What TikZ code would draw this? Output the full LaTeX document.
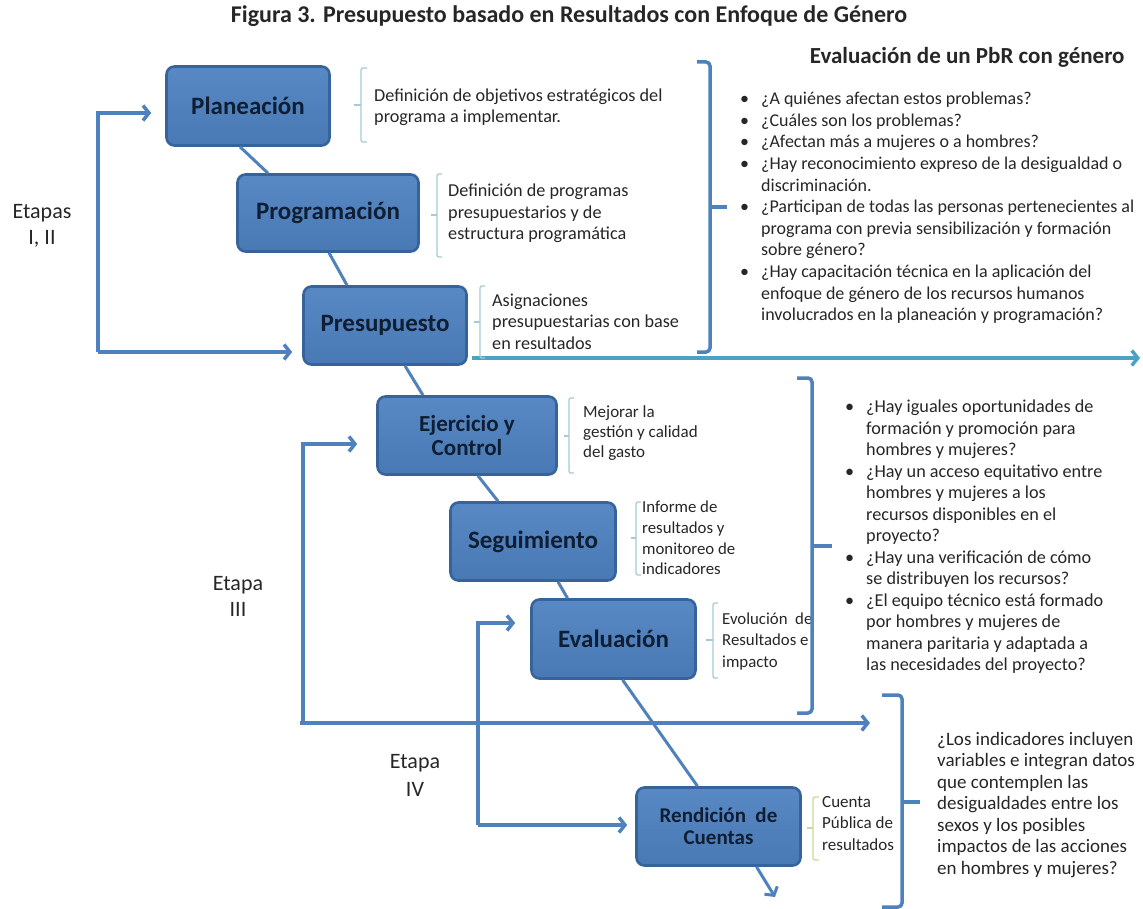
\documentclass[tikz,border=0pt]{standalone}
\usepackage{fontspec}
\setmainfont{Carlito}
\usetikzlibrary{arrows.meta,calc}

\definecolor{boxfill}{HTML}{4F81BD}
\definecolor{boxtop}{HTML}{5889C4}
\definecolor{boxbot}{HTML}{4879B5}
\definecolor{boxedge}{HTML}{36639A}
\definecolor{boxtext}{HTML}{0F1E33}
\definecolor{flowblue}{HTML}{4F81BD}
\definecolor{tealflow}{HTML}{4AA3C4}
\definecolor{notebrace}{HTML}{A8CAD4}
\definecolor{greenbrace}{HTML}{C9D89C}
\definecolor{bodytext}{HTML}{262626}

\newcommand{\bulmark}{\makebox[21pt][l]{•}}
\newcommand{\bulindent}{\hspace*{21pt}}

\begin{document}
\begin{tikzpicture}[x=1pt,y=-1pt,
  stage/.style={draw=boxedge, line width=2.6pt, top color=boxtop, bottom color=boxbot,
    rounded corners=8pt, text=boxtext, align=center, inner sep=0pt,
    font=\bfseries\fontsize{25}{28}\selectfont},
  flow/.style={draw=flowblue, line width=3pt},
  loop/.style={draw=flowblue, line width=3.5pt, -{Straight Barb[length=6pt,width=15pt]}},
  note/.style={anchor=west, align=left, inner sep=0pt, text=bodytext,
    font=\fontsize{18.2}{21.5}\selectfont},
  lownote/.style={note, font=\fontsize{17}{21}\selectfont},
  qlist/.style={anchor=west, align=left, inner sep=0pt, text=bodytext,
    font=\fontsize{18}{21.6}\selectfont},
  stagelabel/.style={align=center, inner sep=0pt, text=bodytext},
  smallbrace/.style={draw=notebrace, line width=1.3pt, rounded corners=2pt},
  bigbrace/.style={draw=flowblue, line width=3.5pt, rounded corners=4pt}]

\useasboundingbox (0,0) rectangle (1143,909);

% headings
\node[font=\bfseries\fontsize{24}{28}\selectfont, text=bodytext] (title) at (569,16)
  {Figura 3. Presupuesto basado en Resultados con Enfoque de Género};
\node[font=\bfseries\fontsize{23}{26}\selectfont, text=bodytext, anchor=east] (evalhead) at (1128,57)
  {Evaluación de un PbR con género};

% stage boxes
\node[stage, minimum width=163pt, minimum height=79pt] (plan) at (248,106) {Planeación};
\node[stage, minimum width=181pt, minimum height=77pt] (prog) at (328,213) {Programación};
\node[stage, minimum width=163pt, minimum height=78pt] (pres) at (385,325.5) {Presupuesto};
\node[stage, minimum width=179pt, minimum height=78pt,
      font=\bfseries\fontsize{23}{24}\selectfont] (ejer) at (467,435.5) {Ejercicio y\\Control};
\node[stage, minimum width=165pt, minimum height=78pt] (seg) at (533,541.5) {Seguimiento};
\node[stage, minimum width=164pt, minimum height=79pt] (eval) at (613.5,639) {Evaluación};
\node[stage, minimum width=164pt, minimum height=78pt,
      font=\bfseries\fontsize{21}{22}\selectfont] (rend) at (718.5,826.5) {Rendición\ \ de\\Cuentas};

% chain through the stages
\draw[flow] ($(plan.south)+(-8,0)$) -- ($(prog.north)+(-60,0)$);
\draw[flow] ($(prog.south)+(1,0)$) -- ($(pres.north)+(-38,0)$);
\draw[flow] ($(pres.south)+(20,0)$) -- ($(ejer.north)+(-44,0)$);
\draw[flow] ($(ejer.south)+(11,0)$) -- ($(seg.north)+(-35,0)$);
\draw[flow] ($(seg.south)+(25,0)$) -- ($(eval.north)+(-46,0)$);
\draw[flow] ($(eval.south)+(9,0)$) -- ($(rend.north)+(-21,0)$);
\coordinate (chainend) at (775,897);
\draw[flow, -{Straight Barb[length=6pt,width=15pt]}] ($(rend.south)+(38,0)$) -- (chainend);

% stage group labels
\node[stagelabel, font=\fontsize{22}{25.5}\selectfont] (etI) at (42,226) {Etapas\\I, II};
\node[stagelabel, font=\fontsize{22}{26}\selectfont] (etIII) at (238,596) {Etapa\\III};
\node[stagelabel, font=\fontsize{22}{28}\selectfont] (etIV) at (415,775) {Etapa\\IV};

% return loops
\coordinate (la) at (98,113);
\coordinate (lb) at (98,352);
\draw[loop] (lb) -- (la) -- ([xshift=-14pt]la -| plan.west);
\draw[loop] (la |- lb) -- ([xshift=-10pt]lb -| pres.west);

\coordinate (lc) at (303,444);
\coordinate (ld) at (300,723);
\coordinate (lcend) at (870,723);
\draw[loop] (lc |- ld) -- (lc) -- ([xshift=-19pt]lc -| ejer.west);
\draw[loop] (ld) -- (lcend);

\coordinate (le) at (478,623);
\coordinate (lf) at (478,825);
\draw[loop] (lf) -- (le) -- ([xshift=-15pt]le -| eval.west);
\draw[loop] (lf) -- ([xshift=-8pt]lf -| rend.west);

% budget line
\coordinate (budgetend) at (1140,358);
\draw[draw=tealflow, line width=3.5pt, -{Straight Barb[length=6pt,width=15pt]}]
  ($(pres.east)+(4,32.5)$) -- (budgetend);

% stage notes with their braces
\draw[smallbrace] (367,68) -- (361,68) -- (361,142) -- (367,142);
\draw[smallbrace] (361,105) -- (354,105);
\node[note, font=\fontsize{18.2}{20.5}\selectfont] (nplan) at (374,107)
  {Definición de objetivos estratégicos del\\programa a implementar.};

\draw[smallbrace] (442,174) -- (437,174) -- (437,257) -- (442,257);
\draw[smallbrace] (437,215) -- (431,215);
\node[note] (nprog) at (448,213.5)
  {Definición de programas\\presupuestarios y de\\estructura programática};

\draw[smallbrace] (485,286) -- (480,286) -- (480,358) -- (485,358);
\draw[smallbrace] (480,322) -- (474,322);
\node[note] (npres) at (492,321.5)
  {Asignaciones\\presupuestarias con base\\en resultados};

\draw[smallbrace] (574,398) -- (569,398) -- (569,473) -- (574,473);
\draw[smallbrace] (569,436) -- (564,436);
\node[lownote, font=\fontsize{17}{20}\selectfont] (nejer) at (583,433)
  {Mejorar la\\gestión y calidad\\del gasto};

\draw[smallbrace] (641,502) -- (636,502) -- (636,575) -- (641,575);
\draw[smallbrace] (636,538) -- (631,538);
\node[lownote, font=\fontsize{16.8}{20.8}\selectfont] (nseg) at (642,538)
  {Informe de\\resultados y\\monitoreo de\\indicadores};

\draw[smallbrace] (718,603) -- (713,603) -- (713,678) -- (718,678);
\draw[smallbrace] (713,640) -- (706,640);
\node[lownote, font=\fontsize{16.8}{21.5}\selectfont] (neval) at (722,641.5)
  {Evolución\ \ de\\Resultados e\\impacto};

\draw[smallbrace, draw=greenbrace] (819,797) -- (813,797) -- (813,860) -- (819,860);
\draw[smallbrace, draw=greenbrace] (813,828) -- (807,828);
\node[lownote, font=\fontsize{17}{21.5}\selectfont] (nrend) at (822,823.5)
  {Cuenta\\Pública de\\resultados};

% evaluation questions with their braces
\draw[bigbrace] (697,62) -- (710,62) -- (710,352) -- (697,352);
\draw[bigbrace] (710,207) -- (727,207);
\node[qlist] (q1) at (740,208)
  {\bulmark¿A quiénes afectan estos problemas?\\
   \bulmark¿Cuáles son los problemas?\\
   \bulmark¿Afectan más a mujeres o a hombres?\\
   \bulmark¿Hay reconocimiento expreso de la desigualdad o\\
   \bulindent discriminación.\\
   \bulmark¿Participan de todas las personas pertenecientes al\\
   \bulindent programa con previa sensibilización y formación\\
   \bulindent sobre género?\\
   \bulmark¿Hay capacitación técnica en la aplicación del\\
   \bulindent enfoque de género de los recursos humanos\\
   \bulindent involucrados en la planeación y programación?};

\draw[bigbrace] (797,378) -- (812,378) -- (812,713) -- (797,713);
\draw[bigbrace] (812,546) -- (832,546);
\node[qlist, font=\fontsize{18.2}{21.5}\selectfont] (q2) at (845,537)
  {\bulmark¿Hay iguales oportunidades de\\
   \bulindent formación y promoción para\\
   \bulindent hombres y mujeres?\\
   \bulmark¿Hay un acceso equitativo entre\\
   \bulindent hombres y mujeres a los\\
   \bulindent recursos disponibles en el\\
   \bulindent proyecto?\\
   \bulmark¿Hay una verificación de cómo\\
   \bulindent se distribuyen los recursos?\\
   \bulmark¿El equipo técnico está formado\\
   \bulindent por hombres y mujeres de\\
   \bulindent manera paritaria y adaptada a\\
   \bulindent las necesidades del proyecto?};

\draw[bigbrace] (882,695) -- (902,695) -- (902,907) -- (882,907);
\draw[bigbrace] (902,802) -- (920,802);
\node[qlist, font=\fontsize{19}{21.5}\selectfont] (q3) at (937,805)
  {¿Los indicadores incluyen\\variables e integran datos\\que contemplen las\\desigualdades entre los\\sexos y los posibles\\impactos de las acciones\\en hombres y mujeres?};

\end{tikzpicture}
\end{document}
